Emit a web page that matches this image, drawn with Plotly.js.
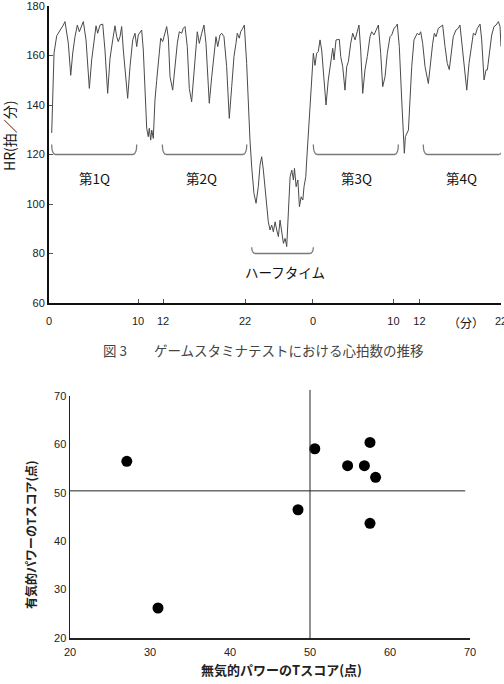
<!DOCTYPE html>
<html><head><meta charset="utf-8">
<script src="https://cdn.plot.ly/plotly-3.0.1.min.js"></script>
<style>html,body{margin:0;padding:0;background:#fff;}#chart{width:504px;height:684px;}</style>
</head><body><div id="chart"></div>
<script>
// ---- Top chart: heart rate over the game (continuous time axis, minutes) ----
const hrTime = [0.31,0.58,0.89,1.19,1.46,1.65,1.84,2.04,2.22,2.50,2.73,2.99,3.26,3.49,3.76,3.95,4.26,4.41,4.64,4.91,5.18,5.41,5.60,5.87,6.18,6.44,6.75,7.02,7.33,7.59,7.79,7.97,8.17,8.36,8.55,8.82,9.05,9.32,9.63,9.89,10.09,10.27,10.47,10.66,10.85,11.04,11.24,11.42,11.54,11.70,11.82,12.00,12.19,12.39,12.69,12.85,13.08,13.35,13.54,13.73,13.92,14.23,14.50,14.76,14.99,15.26,15.45,15.65,15.91,16.14,16.41,16.60,16.80,17.06,17.29,17.57,17.83,18.06,18.21,18.44,18.72,18.98,19.21,19.41,19.67,19.87,20.13,20.44,20.74,21.02,21.28,21.51,21.66,21.89,22.05,22.29,22.47,22.74,22.93,
  23.12,23.32,23.58,23.82,24.08,24.28,24.47,24.66,24.85,25.04,25.23,25.43,25.62,25.81,26.01,26.20,26.39,26.58,26.78,26.97,27.16,27.35,27.55,27.74,27.93,28.12,28.24,28.43,28.63,28.81,29.01,29.20,29.34,29.54,29.65,29.83,30.03,
  30.41,30.60,30.79,30.98,31.18,31.37,31.64,31.87,32.13,32.41,32.64,32.79,33.02,33.40,33.56,33.79,34.05,34.25,34.44,34.71,34.94,35.21,35.47,35.66,35.86,36.09,36.35,36.62,36.93,37.12,37.39,37.62,37.89,38.16,38.39,38.66,38.92,39.23,39.43,39.69,39.92,40.07,40.30,40.58,40.77,40.88,41.00,41.16,41.35,41.53,41.73,41.99,42.19,42.37,42.57,42.76,42.99,43.26,43.64,43.91,44.14,44.33,44.53,44.79,45.06,45.29,45.56,45.82,46.05,46.33,46.51,46.82,47.09,47.28,47.48,47.75,48.06,48.32,48.63,48.82,49.05,49.28,49.59,49.78,50.05,50.28,50.43,50.66,50.93,51.20,51.43,51.70,51.89,52.0];
const hrValue = [128.7,161,168,169.6,171,172.3,173.7,169,165,152,161,167.6,172.3,169.6,172.3,173.7,166.3,158.2,146.7,158.2,166.3,172,169,172.3,172.7,162.2,144.7,158.9,166.3,172,167.6,165.6,167.6,171.7,162.2,151.4,142.7,155.5,166.3,169,163.6,168.3,169.6,170.3,162.2,147.4,130.6,127.2,130.6,125.8,129.9,126.5,142,150,162,167,165.6,169,171.7,167,151.5,146,156.8,164.9,169.6,169,171,171.7,163.6,146.7,141.3,151.4,158.2,169.6,164.9,169,172.3,164.9,155.5,140.7,151.4,160.9,167.6,163.6,168.3,169,167.6,155.5,134.6,147.4,159.6,164.9,169,167,169.6,171,172.3,156.8,139.3,
  125.8,115,104.3,100.3,107,115.8,119.1,113.7,105.6,98.9,92.8,89.5,91.5,88.8,92.8,89.5,86.8,93.5,88.2,84.1,86.1,82.8,97.6,111,113.7,109.7,114.4,107,109.7,98.9,102.9,101.6,107,111,117.8,128.6,138,
  160.9,156,160.9,161.6,166.3,162.2,148.8,140,150.1,158.2,162.9,158.2,166.3,166.5,159.6,155.5,146,155.5,157.5,164.9,169,166.3,170.3,172.3,162.2,144.7,154.2,159.6,167.6,169.6,168.3,170.3,172.3,160.9,147.4,151.4,160.9,167.6,168.3,171,171.7,172.7,163.6,142,125.8,120.5,127.2,128.6,129.9,142,155.5,166.3,167.6,169,168.3,169.6,164.9,155.5,148.7,158.2,164.9,169,167.6,171,171.7,172.3,163.6,156.8,154.3,162.2,167.6,170.3,171,172.3,164.9,155.5,146,156.8,164.9,169,168.3,171,172.7,166.3,150.1,154.2,154.2,160.9,168.3,171.7,172.3,173.7,171.7,163.6];

const timeTickVals = [0,10.24,13.12,22.55,30.37,39.62,42.62,52.0];
const timeTickText = ['0','10','12','22','0','10','12','22'];

const bracketStart = [0.31,13.04,30.41,43.06,23.32];
const bracketEnd   = [10.09,22.75,40.19,52.2,30.41];
const bracketLevel = [120,120,120,120,80];
const bracketRise  = [4,4,4,4,2.5];

const periodLabels = ['第1Q','第2Q','ハーフタイム','第3Q','第4Q'];
const periodLabelX = [5.29,17.57,27.15,35.40,47.48];
const periodLabelY = [110.5,110.5,72.7,110.5,110.5];

// ---- Bottom chart: T scores ----
const anaerobicT = [27.1,31.0,50.6,57.5,54.7,56.8,58.2,48.5,57.5];
const aerobicT   = [56.5,26.2,59.1,60.4,55.6,55.6,53.2,46.5,43.7];
const refX = 50, refY = 50.4;

const W = 504, H = 684;
const px = v => v / W, py = v => 1 - v / H;
const jp = '"Noto Sans CJK JP", "Liberation Sans", Arial, sans-serif';
const latin = '"Liberation Sans", Arial, sans-serif';

const traces = [
  {x: hrTime, y: hrValue, type: 'scatter', mode: 'lines', xaxis: 'x', yaxis: 'y',
   line: {color: '#4a4a4a', width: 1}, hoverinfo: 'skip'},
  {x: anaerobicT, y: aerobicT, type: 'scatter', mode: 'markers', xaxis: 'x2', yaxis: 'y2',
   marker: {color: '#000', size: 11}, hoverinfo: 'skip'}
];

const shapes = [];
bracketStart.forEach((s, i) => {
  const e = bracketEnd[i], b = bracketLevel[i], t = b + bracketRise[i], d = 0.45;
  shapes.push({type: 'path', xref: 'x', yref: 'y',
    path: `M ${s},${t} Q ${s},${b} ${s + d},${b} L ${e - d},${b} Q ${e},${b} ${e},${t}`,
    line: {color: '#7a7a7a', width: 1.3}});
});
shapes.push({type: 'line', xref: 'x2', yref: 'paper', x0: refX, x1: refX, y0: py(638), y1: py(390),
  line: {color: '#222', width: 1}});
shapes.push({type: 'line', xref: 'x2', yref: 'y2', x0: 20, x1: 69.4, y0: refY, y1: refY,
  line: {color: '#222', width: 1}});

const annotations = periodLabels.map((t, i) => ({
  text: t, x: periodLabelX[i], y: periodLabelY[i], xref: 'x', yref: 'y', showarrow: false,
  xanchor: 'center', yanchor: 'middle',
  font: {family: jp, size: 13.5, color: '#111'}
}));
const paperNote = (text, x, y, size, color, angle) => ({
  text: text, x: px(x), y: py(y), xref: 'paper', yref: 'paper', showarrow: false,
  xanchor: 'center', yanchor: 'middle', textangle: angle || 0,
  font: {family: jp, size: size, color: color}
});
annotations.push(
  paperNote('HR(拍／分)', 9, 136, 14, '#111', -90),
  paperNote('（分）', 466, 322, 12, '#111'),
  paperNote('図 3　　ゲームスタミナテストにおける心拍数の推移', 263, 350, 13.5, '#444'),
  paperNote('<b>無気的パワーのTスコア(点)</b>', 281, 669, 13, '#222'),
  paperNote('<b>有気的パワーのTスコア(点)</b>', 30, 535, 12, '#222', -90)
);

const tickFont = {family: latin, size: 11, color: '#222'};
const layout = {
  width: W, height: H, margin: {l: 0, r: 0, t: 0, b: 0},
  paper_bgcolor: '#fff', plot_bgcolor: '#fff', showlegend: false,
  xaxis: {domain: [px(49), px(501)], anchor: 'y', range: [0, 52], tickmode: 'array',
    tickvals: timeTickVals, ticktext: timeTickText, ticks: 'inside', ticklen: 4, tickcolor: '#555',
    ticklabelstandoff: 7, ticklabeloverflow: 'allow',
    showgrid: false, zeroline: false, showline: true, linecolor: '#111', linewidth: 2,
    tickfont: tickFont, fixedrange: true},
  yaxis: {domain: [py(303), py(6)], anchor: 'x', range: [60, 180], dtick: 20,
    ticks: 'inside', ticklen: 4, tickcolor: '#555', ticklabeloverflow: 'allow',
    showgrid: false, zeroline: false, showline: true, linecolor: '#111', linewidth: 2,
    tickfont: tickFont, fixedrange: true},
  xaxis2: {domain: [px(70), px(470)], anchor: 'y2', range: [20, 70], dtick: 10, ticks: '',
    ticklabelstandoff: 3, ticklabeloverflow: 'allow',
    showgrid: false, zeroline: false, showline: true, linecolor: '#222', linewidth: 1.5,
    tickfont: tickFont, fixedrange: true},
  yaxis2: {domain: [py(638), py(396)], anchor: 'x2', range: [20, 70], dtick: 10, ticks: '',
    ticklabeloverflow: 'allow',
    showgrid: false, zeroline: false, showline: true, linecolor: '#222', linewidth: 1.5,
    tickfont: tickFont, fixedrange: true},
  shapes: shapes, annotations: annotations
};
Plotly.newPlot('chart', traces, layout, {staticPlot: true, displayModeBar: false});
</script></body></html>
